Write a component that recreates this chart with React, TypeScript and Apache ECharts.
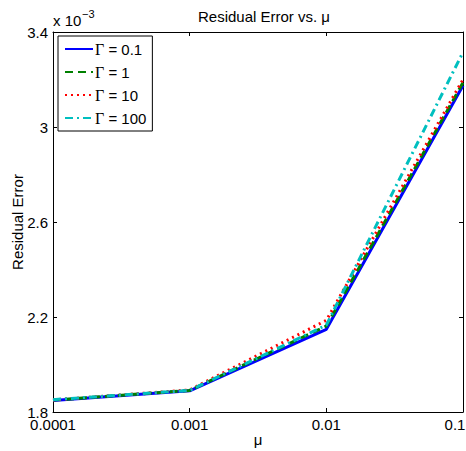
import React, { useEffect, useRef } from "react";
import * as echarts from "echarts";

const muValues = [0.0001, 0.001, 0.01, 0.1];
const xTickLabels = ["0.0001", "0.001", "0.01", "0.1"];
const yTickValues = [1.8, 2.2, 2.6, 3.0, 3.4];
const gamma01 = [1.848, 1.889, 2.148, 3.175];
const gamma1 = [1.85, 1.891, 2.162, 3.187];
const gamma10 = [1.851, 1.893, 2.186, 3.2];
const gamma100 = [1.852, 1.891, 2.166, 3.315];
const seriesNames = ["0.1", "1", "10", "100"];

const FONT = "Liberation Sans, Arial, Helvetica, sans-serif";
const SERIF = "Liberation Serif, Times New Roman, serif";

export default function App() {
  const ref = useRef<HTMLDivElement>(null);
  useEffect(() => {
    document.body.style.margin = "0";
    const chart = echarts.init(ref.current!, null, { renderer: "svg" });
    const pairs = (ys: number[]) => muValues.map((m, i) => [m, ys[i]]);
    const xBase = {
      type: "log",
      logBase: 10,
      min: 0.0001,
      max: 0.1,
      axisLine: { show: true, lineStyle: { color: "#000", width: 1 } },
      axisTick: { show: true, inside: true, length: 4, lineStyle: { color: "#000" } },
      minorTick: { show: false },
      splitLine: { show: false },
    };
    const yBase = {
      type: "value",
      min: 1.8,
      max: 3.4,
      interval: 0.2,
      axisLine: { show: true, lineStyle: { color: "#000", width: 1 } },
      axisTick: { show: true, inside: true, length: 4, lineStyle: { color: "#000" }, customValues: yTickValues },
      splitLine: { show: false },
    };
    const mk = (name: string, data: number[], color: string, type: any) => ({
      name,
      type: "line",
      data: pairs(data),
      symbol: "none",
      showSymbol: false,
      lineStyle: { color, width: 3, type },
      itemStyle: { color },
      z: 2,
    });
    chart.setOption({
      animation: false,
      backgroundColor: "#fff",
      textStyle: { fontFamily: FONT },
      title: {
        text: "Residual Error vs. μ",
        left: 259,
        textAlign: "center",
        top: 4,
        textStyle: { fontFamily: FONT, fontSize: 15, fontWeight: "normal", color: "#000" },
      },
      grid: { left: 53, top: 32, right: 3, bottom: 39, containLabel: false, outerBoundsMode: "none" },
      legend: {
        orient: "vertical",
        left: 58,
        top: 36,
        padding: [5, 6, 5, 6],
        itemGap: 7,
        itemWidth: 28,
        itemHeight: 14,
        backgroundColor: "#fff",
        borderColor: "#000",
        borderWidth: 1,
        borderRadius: 0,
        itemStyle: { opacity: 0 },
        data: ["g0", "g1", "g2", "g3"],
        formatter: (n: string) => {
          const idx = ["g0", "g1", "g2", "g3"].indexOf(n);
          return `{g|Γ}{t| = ${seriesNames[idx]}}`;
        },
        textStyle: {
          color: "#000",
          fontSize: 15,
          padding: [0, 0, 0, -3],
          rich: {
            g: { fontFamily: SERIF, fontSize: 16, color: "#000" },
            t: { fontFamily: FONT, fontSize: 15, color: "#000" },
          },
        },
      },
      xAxis: [
        {
          ...xBase,
          position: "bottom",
          name: "μ",
          nameLocation: "middle",
          nameGap: 20,
          nameMoveOverlap: false,
          nameTextStyle: { fontFamily: FONT, fontSize: 15, color: "#000" },
          axisLabel: {
            show: true,
            color: "#000",
            fontSize: 15,
            fontFamily: FONT,
            margin: 5,
            formatter: (v: number) => {
              const i = muValues.findIndex((m) => Math.abs(Math.log10(m) - Math.log10(v)) < 1e-6);
              if (i < 0) return "";
              return i === muValues.length - 1 ? `{r|${xTickLabels[i]}}` : xTickLabels[i];
            },
            rich: {
              r: { fontFamily: FONT, fontSize: 15, color: "#000", padding: [0, 16, 0, 0] },
            },
          },
        },
        { ...xBase, position: "top", axisLabel: { show: false } },
      ],
      yAxis: [
        {
          ...yBase,
          position: "left",
          name: "Residual Error",
          nameLocation: "middle",
          nameGap: 28,
          nameMoveOverlap: false,
          nameTextStyle: { fontFamily: FONT, fontSize: 15, color: "#000" },
          axisLabel: {
            show: true,
            color: "#000",
            fontSize: 15,
            fontFamily: FONT,
            margin: 5,
            customValues: yTickValues,
            formatter: (v: number) => String(Math.round(v * 10) / 10),
          },
        },
        { ...yBase, position: "right", axisLabel: { show: false } },
      ],
      graphic: [
        {
          type: "text",
          left: 53,
          top: 13,
          style: { text: "x 10", fontFamily: FONT, fontSize: 15, fill: "#000" },
        },
        {
          type: "text",
          left: 82,
          top: 8,
          style: { text: "−3", fontFamily: FONT, fontSize: 11, fill: "#000" },
        },
      ],
      series: [
        mk("g0", gamma01, "#0000ff", "solid"),
        mk("g1", gamma1, "#008000", [8, 5]),
        mk("g2", gamma10, "#ff0000", [2, 4]),
        mk("g3", gamma100, "#00bfbf", [8, 4, 2, 4]),
      ],
    });
    return () => chart.dispose();
  }, []);
  return <div ref={ref} style={{ width: 466, height: 451 }} />;
}
